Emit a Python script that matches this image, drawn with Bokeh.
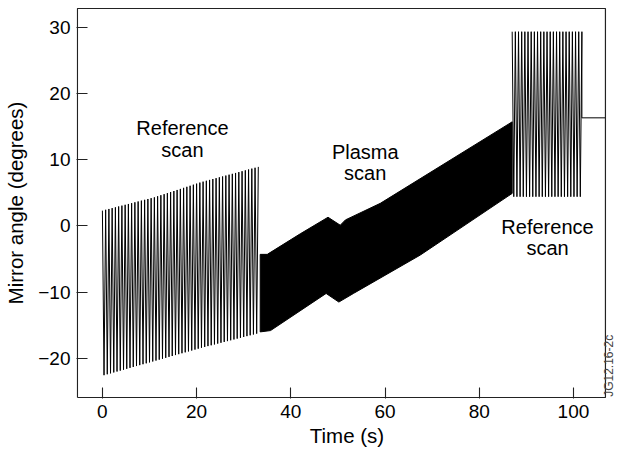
import numpy as np
from bokeh.plotting import figure
from bokeh.models import FixedTicker, Range1d
from bokeh.embed import file_html
from bokeh.resources import INLINE
from bokeh.core.properties import value

FONT = "Liberation Sans"

# --- Reference scan 1: envelope of the mirror sweep ---
ref1_t = [0.0, 11.0, 21.0, 33.1]
ref1_top = [2.3, 4.3, 6.6, 8.9]
ref1_bot = [-22.6, -20.4, -18.4, -16.2]
ref1_cycles = 48

# --- Plasma scan: fast sweep, drawn as its envelope ---
plasma_top_t = [33.5, 35.0, 42.0, 47.9, 50.5, 51.6, 59.0, 87.0]
plasma_top = [-4.3, -4.3, -1.2, 1.3, 0.1, 0.9, 3.4, 15.7]
plasma_bot_t = [33.5, 35.7, 47.5, 50.2, 53.3, 67.5, 87.0]
plasma_bot = [-16.0, -15.8, -10.2, -11.5, -10.2, -4.4, 4.9]

# --- Reference scan 2 ---
ref2_t = [87.0, 101.8]
ref2_top = [29.3, 29.3]
ref2_bot = [4.4, 4.4]
ref2_cycles = 22

# --- Mirror parked after the scan (to the end of the plotted window) ---
hold_t = [101.8, 106.8]
hold_angle = [16.3, 16.3]

# --- Plot box limits ---
box_x = [-5.3, 106.8]
box_y = [-25.9, 32.8]

# --- Tick labels ---
x_ticks = [0, 20, 40, 60, 80, 100]
y_ticks = [-20, -10, 0, 10, 20, 30]
y_tick_labels = ["\u221220", "\u221210", "0", "10", "20", "30"]

# --- Annotations ---
ann_x = [17.0, 17.0, 55.8, 55.8, 94.5, 94.5]
ann_y = [14.8, 11.4, 11.1, 8.0, -0.2, -3.4]
ann_text = ["Reference", "scan", "Plasma", "scan", "Reference", "scan"]
code_x = [107.65]
code_y = [-25.8]
code_text = ["JG12.16-2c"]


def sweep(t, top, bot, n):
    k = np.arange(2 * n + 1)
    tt = t[0] + (t[-1] - t[0]) * k / (2 * n)
    hi = np.interp(tt, t, top)
    lo = np.interp(tt, t, bot)
    return tt, np.where(k % 2 == 0, hi, lo)


p = figure(width=617, height=450,
           x_range=Range1d(-5.5, 109.36), y_range=Range1d(-26.05, 32.95),
           output_backend="svg", toolbar_location=None,
           min_border_left=76, min_border_right=0,
           min_border_top=7, min_border_bottom=52)
p.xgrid.visible = False
p.ygrid.visible = False
p.outline_line_color = None

# sweeps
x1, y1 = sweep(ref1_t, ref1_top, ref1_bot, ref1_cycles)
p.line(x1, y1, line_color="black", line_width=1)

p.patch(plasma_top_t + plasma_bot_t[::-1], plasma_top + plasma_bot[::-1],
        fill_color="black", line_color="black", line_width=1)

x2, y2 = sweep(ref2_t, ref2_top, ref2_bot, ref2_cycles)
p.line(list(x2) + hold_t, list(y2) + hold_angle, line_color="black", line_width=1)

# plot box
p.line([box_x[0], box_x[1], box_x[1], box_x[0], box_x[0]],
       [box_y[0], box_y[0], box_y[1], box_y[1], box_y[0]],
       line_color="#222222", line_width=1.2)

p.text(x=ann_x, y=ann_y, text=ann_text, text_align="center",
       text_baseline="middle", text_font=value(FONT),
       text_font_size="20px", text_color="black")

# figure code, written vertically just right of the box
p.text(x=code_x, y=code_y, text=code_text, angle=np.pi / 2,
       text_align="left", text_baseline="middle", text_font=value(FONT),
       text_font_size="12px", text_color="#444444")

for ax in (p.xaxis[0], p.yaxis[0]):
    ax.major_tick_in = 11
    ax.major_tick_out = 0
    ax.minor_tick_in = 0
    ax.minor_tick_out = 0
    ax.axis_line_color = None
    ax.major_tick_line_color = "#222222"
    ax.major_tick_line_width = 1.1
    ax.major_label_text_font = FONT
    ax.major_label_text_font_size = "19px"
    ax.major_label_text_color = "black"
    ax.axis_label_text_font = FONT
    ax.axis_label_text_font_size = "20.5px"
    ax.axis_label_text_font_style = "normal"
    ax.axis_label_text_color = "black"

p.xaxis.ticker = FixedTicker(ticks=x_ticks)
p.yaxis.ticker = FixedTicker(ticks=y_ticks)
p.yaxis.major_label_overrides = dict(zip(y_ticks, y_tick_labels))
p.xaxis.axis_label = "Time (s)"
p.yaxis.axis_label = "Mirror angle (degrees)"
p.xaxis.major_label_standoff = 6
p.yaxis.major_label_standoff = 6
p.xaxis.axis_label_standoff = 3
p.yaxis.axis_label_standoff = 8

open("out.html", "w").write(file_html(p, INLINE))
